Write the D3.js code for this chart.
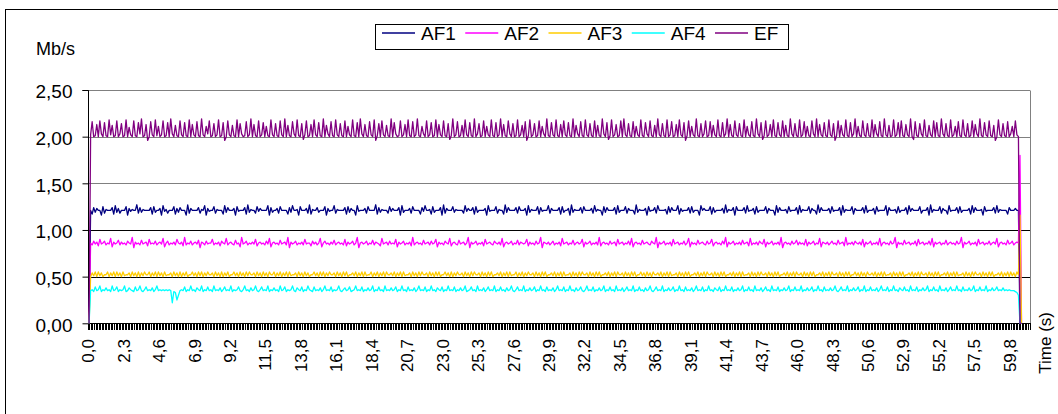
<!DOCTYPE html>
<html><head><meta charset="utf-8">
<script src="https://cdn.jsdelivr.net/npm/d3@7"></script>
<style>body{margin:0;background:#fff}svg{display:block;font-family:"Liberation Sans",Arial,sans-serif}</style>
</head><body><svg id="c" width="1058" height="414"></svg>
<script>
const seriesNames = ["AF1","AF2","AF3","AF4","EF"];
const seriesColors = ["#000080","#FF00FF","#FFCC00","#00FFFF","#800080"];
const categoryCount = 611;
const categories = d3.range(categoryCount).map(i => (i/10).toFixed(1).replace(".", ","));
const xTickLabels = ["0,0","2,3","4,6","6,9","9,2","11,5","13,8","16,1","18,4","20,7","23,0","25,3","27,6","29,9","32,2","34,5","36,8","39,1","41,4","43,7","46,0","48,3","50,6","52,9","55,2","57,5","59,8"];
const yTickValues = [0,0.5,1,1.5,2,2.5];
const yTickLabels = ["0,00","0,50","1,00","1,50","2,00","2,50"];

const AF1 = [0,
1.21,1.17,1.24,1.19,1.23,1.21,1.21,1.16,1.25,1.18,1.22,1.21,1.21,1.21,1.24,1.17,1.26,1.19,1.23,1.18,
1.21,1.21,1.21,1.25,1.16,1.23,1.20,1.22,1.21,1.21,1.27,1.18,1.24,1.19,1.22,1.21,1.21,1.21,1.21,1.24,
1.17,1.25,1.19,1.21,1.21,1.23,1.16,1.26,1.20,1.22,1.18,1.21,1.21,1.21,1.25,1.17,1.23,1.19,1.24,1.21,
1.21,1.21,1.16,1.27,1.18,1.23,1.21,1.21,1.21,1.21,1.24,1.18,1.22,1.21,1.26,1.16,1.23,1.20,1.21,1.21,
1.25,1.18,1.22,1.21,1.21,1.21,1.17,1.26,1.19,1.24,1.21,1.21,1.21,1.23,1.16,1.25,1.20,1.21,1.21,1.21,
1.24,1.17,1.27,1.19,1.22,1.21,1.21,1.18,1.25,1.20,1.23,1.21,1.21,1.21,1.21,1.26,1.16,1.24,1.19,1.21,
1.21,1.23,1.18,1.25,1.21,1.21,1.21,1.21,1.17,1.24,1.19,1.26,1.21,1.21,1.22,1.16,1.25,1.21,1.21,1.21,
1.23,1.18,1.27,1.17,1.22,1.21,1.21,1.24,1.19,1.21,1.21,1.21,1.25,1.16,1.23,1.20,1.21,1.21,1.26,1.18,
1.22,1.21,1.21,1.21,1.21,1.24,1.17,1.25,1.19,1.23,1.21,1.21,1.16,1.26,1.20,1.21,1.21,1.21,1.23,1.18,
1.25,1.21,1.21,1.21,1.21,1.27,1.17,1.24,1.19,1.22,1.21,1.21,1.21,1.18,1.25,1.20,1.23,1.21,1.21,1.21,
1.24,1.16,1.26,1.19,1.21,1.21,1.21,1.23,1.18,1.25,1.21,1.21,1.21,1.21,1.17,1.24,1.20,1.26,1.21,1.21,
1.22,1.17,1.25,1.19,1.21,1.21,1.21,1.24,1.16,1.27,1.18,1.23,1.21,1.21,1.21,1.25,1.19,1.22,1.21,1.21,
1.21,1.21,1.18,1.26,1.20,1.23,1.21,1.21,1.24,1.17,1.25,1.19,1.21,1.21,1.21,1.21,1.23,1.16,1.26,1.20,
1.21,1.21,1.21,1.25,1.18,1.22,1.21,1.21,1.17,1.27,1.19,1.24,1.21,1.21,1.21,1.21,1.24,1.18,1.25,1.21,
1.21,1.21,1.23,1.16,1.26,1.19,1.22,1.21,1.21,1.21,1.25,1.17,1.24,1.20,1.21,1.21,1.21,1.26,1.18,1.23,
1.21,1.21,1.21,1.21,1.24,1.17,1.25,1.19,1.21,1.21,1.23,1.16,1.27,1.19,1.22,1.21,1.21,1.21,1.24,1.18,
1.25,1.21,1.21,1.21,1.21,1.23,1.18,1.26,1.20,1.22,1.21,1.21,1.16,1.25,1.19,1.24,1.21,1.21,1.21,1.21,
1.24,1.17,1.26,1.19,1.21,1.21,1.21,1.25,1.18,1.23,1.21,1.21,1.21,1.17,1.27,1.19,1.22,1.21,1.21,1.21,
1.23,1.16,1.25,1.20,1.21,1.21,1.24,1.18,1.26,1.21,1.21,1.21,1.21,1.22,1.17,1.25,1.19,1.24,1.21,1.21,
1.21,1.26,1.17,1.23,1.20,1.21,1.21,1.21,1.24,1.18,1.25,1.19,1.21,1.21,1.21,1.16,1.26,1.21,1.23,1.21,
1.21,1.21,1.25,1.17,1.24,1.19,1.21,1.21,1.21,1.21,1.23,1.18,1.27,1.19,1.22,1.21,1.21,1.24,1.16,1.25,
1.21,1.21,1.21,1.21,1.24,1.18,1.26,1.20,1.21,1.21,1.23,1.17,1.25,1.19,1.21,1.21,1.21,1.21,1.25,1.18,
1.23,1.21,1.21,1.21,1.16,1.26,1.19,1.24,1.21,1.21,1.21,1.22,1.18,1.25,1.20,1.21,1.21,1.21,1.24,1.17,
1.26,1.19,1.22,1.21,1.21,1.21,1.25,1.18,1.23,1.21,1.21,1.17,1.27,1.19,1.24,1.21,1.21,1.21,1.21,1.23,
1.18,1.25,1.20,1.21,1.21,1.21,1.24,1.16,1.26,1.19,1.22,1.21,1.21,1.21,1.25,1.17,1.23,1.21,1.21,1.21,
1.21,1.24,1.18,1.26,1.19,1.21,1.21,1.21,1.23,1.17,1.25,1.20,1.21,1.21,1.21,1.21,1.26,1.16,1.24,1.21,
1.21,1.21,1.22,1.18,1.25,1.19,1.21,1.21,1.21,1.24,1.17,1.26,1.20,1.23,1.21,1.21,1.21,1.21,1.25,1.18,
1.21,1.21,1.21,1.24,1.16,1.27,1.19,1.22,1.21,1.21,1.21,1.25,1.18,1.23,1.21,1.21,1.17,1.26,1.20,1.21,
1.21,1.21,1.24,1.18,1.25,1.19,1.21,1.21,1.21,1.21,1.23,1.17,1.26,1.19,1.24,1.21,1.21,1.21,1.22,1.16,
1.25,1.20,1.21,1.21,1.21,1.21,1.24,1.18,1.26,1.19,1.22,1.21,1.21,1.21,1.21,1.17,1.24,1.21,1.21,1.21,
1.23,1.21,1.21,
0,0];

const AF2 = [0,
0.86,0.84,0.88,0.85,0.87,0.83,0.90,0.85,0.86,0.88,0.84,0.86,0.85,0.91,0.82,0.87,0.85,0.86,0.89,0.84,
0.87,0.85,0.86,0.84,0.88,0.86,0.85,0.92,0.81,0.87,0.85,0.86,0.84,0.89,0.85,0.86,0.87,0.83,0.90,0.85,
0.86,0.85,0.88,0.84,0.86,0.87,0.85,0.91,0.82,0.86,0.88,0.84,0.86,0.85,0.87,0.84,0.90,0.86,0.85,0.87,
0.83,0.92,0.84,0.86,0.85,0.88,0.84,0.86,0.87,0.85,0.89,0.81,0.87,0.86,0.84,0.88,0.85,0.86,0.86,0.90,
0.84,0.86,0.85,0.87,0.83,0.88,0.86,0.85,0.91,0.84,0.86,0.87,0.85,0.84,0.89,0.85,0.86,0.82,0.92,0.85,
0.86,0.88,0.84,0.86,0.85,0.87,0.85,0.90,0.83,0.86,0.87,0.85,0.86,0.84,0.88,0.85,0.91,0.82,0.86,0.87,
0.85,0.86,0.84,0.89,0.85,0.86,0.87,0.84,0.92,0.81,0.87,0.85,0.86,0.88,0.84,0.86,0.85,0.87,0.84,0.90,
0.85,0.86,0.86,0.83,0.88,0.85,0.87,0.84,0.86,0.91,0.82,0.86,0.88,0.85,0.86,0.84,0.87,0.85,0.89,0.84,
0.86,0.87,0.85,0.86,0.84,0.90,0.83,0.87,0.85,0.86,0.88,0.84,0.86,0.92,0.81,0.86,0.87,0.85,0.86,0.88,
0.84,0.86,0.85,0.89,0.84,0.87,0.86,0.85,0.83,0.91,0.85,0.86,0.87,0.84,0.88,0.85,0.86,0.85,0.90,0.82,
0.87,0.85,0.86,0.88,0.84,0.86,0.85,0.87,0.83,0.92,0.84,0.86,0.87,0.85,0.86,0.84,0.89,0.85,0.86,0.87,
0.84,0.88,0.85,0.86,0.90,0.82,0.87,0.85,0.86,0.84,0.88,0.86,0.85,0.91,0.83,0.86,0.87,0.85,0.84,0.89,
0.85,0.86,0.87,0.84,0.86,0.92,0.81,0.87,0.85,0.86,0.88,0.84,0.86,0.85,0.87,0.83,0.90,0.85,0.86,0.87,
0.85,0.84,0.88,0.86,0.85,0.87,0.84,0.91,0.82,0.86,0.87,0.85,0.86,0.88,0.84,0.86,0.85,0.89,0.84,0.87,
0.86,0.85,0.86,0.90,0.83,0.87,0.85,0.86,0.84,0.88,0.85,0.86,0.92,0.81,0.87,0.86,0.85,0.87,0.84,0.86,
0.88,0.84,0.86,0.85,0.87,0.83,0.91,0.85,0.86,0.87,0.84,0.86,0.85,0.89,0.84,0.86,0.87,0.85,0.86,0.90,
0.82,0.87,0.85,0.86,0.88,0.84,0.86,0.85,0.87,0.84,0.92,0.83,0.86,0.87,0.85,0.86,0.84,0.88,0.85,0.86,
0.87,0.83,0.90,0.85,0.86,0.87,0.84,0.86,0.85,0.88,0.84,0.91,0.82,0.86,0.87,0.85,0.86,0.84,0.89,0.85,
0.86,0.87,0.85,0.84,0.88,0.86,0.85,0.92,0.81,0.87,0.85,0.86,0.88,0.84,0.86,0.85,0.87,0.83,0.90,0.85,
0.86,0.87,0.84,0.86,0.85,0.88,0.84,0.86,0.91,0.82,0.87,0.85,0.86,0.84,0.89,0.85,0.86,0.87,0.85,0.84,
0.88,0.85,0.86,0.90,0.83,0.86,0.87,0.85,0.86,0.84,0.88,0.85,0.92,0.82,0.87,0.85,0.86,0.88,0.84,0.86,
0.85,0.87,0.84,0.89,0.85,0.86,0.87,0.83,0.91,0.84,0.86,0.85,0.87,0.84,0.88,0.86,0.85,0.90,0.82,0.87,
0.85,0.86,0.88,0.84,0.86,0.85,0.87,0.84,0.92,0.81,0.86,0.87,0.85,0.86,0.84,0.88,0.85,0.86,0.89,0.84,
0.87,0.85,0.86,0.84,0.90,0.83,0.87,0.85,0.86,0.88,0.84,0.86,0.85,0.91,0.82,0.87,0.86,0.85,0.87,0.84,
0.86,0.88,0.85,0.86,0.84,0.89,0.85,0.86,0.87,0.83,0.92,0.84,0.86,0.85,0.87,0.84,0.88,0.86,0.85,0.87,
0.84,0.90,0.82,0.87,0.85,0.86,0.88,0.84,0.86,0.85,0.87,0.84,0.91,0.83,0.86,0.87,0.85,0.86,0.84,0.88,
0.85,0.86,0.92,0.81,0.87,0.85,0.86,0.84,0.89,0.85,0.86,0.87,0.84,0.86,0.85,0.88,0.83,0.90,0.85,0.86,
0.87,0.84,0.86,0.85,0.88,0.84,0.91,0.82,0.87,0.85,0.86,0.87,0.84,0.86,0.85,0.89,0.84,0.86,0.87,0.85,
0.86,0.84,0.88,0.85,0.86,0.92,0.81,0.87,0.85,0.86,0.88,0.84,0.86,0.85,0.87,0.83,0.90,0.85,0.86,0.87,
0.84,0.86,0.85,0.88,0.84,0.86,0.87,0.85,0.91,0.82,0.86,0.87,0.85,0.86,0.84,0.89,0.85,0.86,0.88,0.84,
0.86,0.87,0.86,
1.80,0];

const AF3 = [0,
0.50,0.54,0.51,0.55,0.50,0.55,0.51,0.54,0.50,0.52,0.52,0.55,0.50,0.54,0.51,0.55,0.50,0.55,0.51,0.54,
0.50,0.55,0.51,0.52,0.52,0.54,0.50,0.55,0.51,0.54,0.50,0.55,0.50,0.54,0.51,0.55,0.52,0.52,0.55,0.50,
0.54,0.51,0.55,0.50,0.55,0.51,0.54,0.50,0.55,0.51,0.52,0.52,0.54,0.50,0.55,0.51,0.54,0.50,0.55,0.50,
0.54,0.51,0.55,0.50,0.52,0.52,0.55,0.51,0.54,0.50,0.55,0.51,0.55,0.50,0.54,0.51,0.55,0.52,0.52,0.54,
0.50,0.55,0.51,0.54,0.50,0.55,0.50,0.54,0.51,0.55,0.50,0.52,0.52,0.55,0.51,0.54,0.50,0.55,0.51,0.54,
0.50,0.55,0.51,0.55,0.52,0.52,0.54,0.50,0.55,0.51,0.54,0.50,0.55,0.51,0.54,0.50,0.55,0.52,0.52,0.55,
0.50,0.54,0.51,0.55,0.50,0.54,0.51,0.55,0.50,0.55,0.51,0.52,0.52,0.54,0.50,0.55,0.51,0.54,0.50,0.55,
0.51,0.54,0.50,0.52,0.52,0.55,0.51,0.54,0.50,0.55,0.51,0.55,0.50,0.54,0.51,0.55,0.52,0.52,0.54,0.50,
0.55,0.51,0.54,0.50,0.55,0.51,0.55,0.50,0.52,0.52,0.54,0.51,0.55,0.50,0.54,0.51,0.55,0.50,0.55,0.51,
0.52,0.52,0.55,0.50,0.54,0.51,0.55,0.50,0.54,0.51,0.55,0.50,0.55,0.52,0.52,0.54,0.51,0.55,0.50,0.54,
0.51,0.55,0.50,0.55,0.51,0.52,0.52,0.54,0.50,0.55,0.51,0.54,0.50,0.55,0.51,0.55,0.52,0.52,0.54,0.50,
0.55,0.51,0.54,0.50,0.55,0.51,0.55,0.50,0.52,0.52,0.55,0.51,0.54,0.50,0.55,0.50,0.54,0.51,0.55,0.52,
0.52,0.54,0.50,0.55,0.51,0.54,0.50,0.55,0.51,0.55,0.52,0.52,0.54,0.50,0.55,0.51,0.54,0.50,0.55,0.51,
0.55,0.50,0.52,0.52,0.54,0.51,0.55,0.50,0.54,0.51,0.55,0.50,0.55,0.51,0.52,0.52,0.55,0.50,0.54,0.51,
0.55,0.50,0.54,0.51,0.55,0.52,0.52,0.54,0.50,0.55,0.51,0.54,0.50,0.55,0.51,0.55,0.50,0.52,0.52,0.54,
0.51,0.55,0.50,0.54,0.51,0.55,0.50,0.55,0.51,0.52,0.52,0.54,0.50,0.55,0.51,0.54,0.50,0.55,0.51,0.55,
0.52,0.52,0.54,0.50,0.55,0.51,0.54,0.50,0.55,0.51,0.55,0.50,0.52,0.52,0.54,0.51,0.55,0.50,0.54,0.51,
0.55,0.50,0.55,0.52,0.52,0.54,0.50,0.55,0.51,0.54,0.50,0.55,0.51,0.55,0.50,0.52,0.52,0.55,0.51,0.54,
0.50,0.55,0.51,0.54,0.50,0.55,0.52,0.52,0.54,0.51,0.55,0.50,0.54,0.51,0.55,0.50,0.55,0.51,0.52,0.52,
0.54,0.50,0.55,0.51,0.54,0.50,0.55,0.51,0.55,0.50,0.52,0.52,0.54,0.51,0.55,0.50,0.54,0.51,0.55,0.50,
0.55,0.52,0.52,0.54,0.50,0.55,0.51,0.54,0.50,0.55,0.51,0.55,0.50,0.52,0.52,0.54,0.51,0.55,0.50,0.54,
0.51,0.55,0.50,0.55,0.51,0.52,0.52,0.54,0.50,0.55,0.51,0.54,0.50,0.55,0.51,0.55,0.52,0.52,0.54,0.50,
0.55,0.51,0.54,0.50,0.55,0.51,0.55,0.50,0.52,0.52,0.54,0.51,0.55,0.50,0.54,0.51,0.55,0.50,0.55,0.52,
0.52,0.54,0.50,0.55,0.51,0.54,0.50,0.55,0.51,0.55,0.50,0.52,0.52,0.54,0.51,0.55,0.50,0.54,0.51,0.55,
0.50,0.55,0.52,0.52,0.54,0.50,0.55,0.51,0.54,0.50,0.55,0.51,0.55,0.50,0.52,0.52,0.55,0.51,0.54,0.50,
0.55,0.51,0.54,0.50,0.55,0.52,0.52,0.54,0.51,0.55,0.50,0.54,0.51,0.55,0.50,0.55,0.51,0.52,0.52,0.54,
0.50,0.55,0.51,0.54,0.50,0.55,0.51,0.55,0.50,0.52,0.52,0.54,0.51,0.55,0.50,0.54,0.51,0.55,0.50,0.55,
0.52,0.52,0.54,0.50,0.55,0.51,0.54,0.50,0.55,0.51,0.55,0.50,0.52,0.52,0.54,0.51,0.55,0.50,0.54,0.51,
0.55,0.50,0.55,0.51,0.52,0.52,0.54,0.50,0.55,0.51,0.54,0.50,0.55,0.51,0.55,0.52,0.52,0.54,0.50,0.55,
0.51,0.54,0.50,0.55,0.51,0.55,0.50,0.52,0.52,0.54,0.51,0.55,0.50,0.54,0.51,0.55,0.50,0.55,0.51,0.54,
0.50,0.55,0.52,
1.16,0];

const AF4 = [0,
0.35,0.36,0.34,0.39,0.35,0.36,0.40,0.34,0.36,0.35,0.38,0.35,0.36,0.34,0.40,0.35,0.36,0.39,0.34,0.36,
0.35,0.36,0.40,0.34,0.35,0.38,0.36,0.35,0.34,0.39,0.35,0.36,0.40,0.35,0.34,0.36,0.39,0.35,0.36,0.35,
0.38,0.34,0.36,0.40,0.35,0.36,0.35,0.36,0.35,0.36,0.35,0.36,0.35,0.22,0.34,0.33,0.25,0.30,0.35,0.36,
0.35,0.39,0.34,0.36,0.35,0.40,0.35,0.36,0.34,0.38,0.36,0.35,0.40,0.34,0.36,0.35,0.39,0.35,0.36,0.34,
0.40,0.35,0.36,0.35,0.38,0.34,0.36,0.39,0.35,0.36,0.35,0.40,0.34,0.36,0.35,0.36,0.39,0.35,0.34,0.36,
0.40,0.35,0.36,0.34,0.38,0.35,0.36,0.40,0.35,0.34,0.36,0.39,0.35,0.36,0.35,0.40,0.34,0.36,0.35,0.38,
0.35,0.36,0.34,0.40,0.35,0.36,0.39,0.34,0.36,0.35,0.36,0.40,0.35,0.34,0.38,0.36,0.35,0.39,0.34,0.36,
0.35,0.40,0.36,0.35,0.34,0.39,0.35,0.36,0.35,0.38,0.34,0.36,0.40,0.35,0.36,0.35,0.39,0.34,0.36,0.35,
0.36,0.40,0.35,0.34,0.36,0.38,0.35,0.36,0.39,0.34,0.35,0.36,0.40,0.35,0.36,0.35,0.39,0.34,0.36,0.35,
0.38,0.35,0.36,0.40,0.34,0.36,0.35,0.39,0.35,0.36,0.34,0.40,0.35,0.36,0.35,0.38,0.35,0.36,0.39,0.34,
0.36,0.35,0.40,0.35,0.36,0.34,0.39,0.35,0.36,0.35,0.38,0.34,0.36,0.40,0.35,0.36,0.35,0.39,0.34,0.36,
0.35,0.40,0.35,0.36,0.34,0.38,0.36,0.35,0.39,0.34,0.36,0.35,0.40,0.35,0.36,0.35,0.39,0.34,0.36,0.35,
0.38,0.35,0.36,0.40,0.34,0.35,0.36,0.39,0.35,0.36,0.34,0.40,0.35,0.36,0.35,0.38,0.34,0.36,0.39,0.35,
0.36,0.35,0.40,0.34,0.36,0.35,0.39,0.35,0.36,0.34,0.38,0.35,0.36,0.40,0.35,0.34,0.36,0.39,0.35,0.36,
0.35,0.40,0.34,0.36,0.35,0.38,0.35,0.36,0.39,0.34,0.36,0.35,0.40,0.35,0.36,0.34,0.39,0.35,0.36,0.35,
0.38,0.34,0.36,0.40,0.35,0.36,0.35,0.39,0.34,0.36,0.35,0.40,0.35,0.36,0.34,0.38,0.35,0.36,0.39,0.35,
0.34,0.36,0.40,0.35,0.36,0.35,0.39,0.34,0.36,0.35,0.38,0.35,0.36,0.40,0.34,0.36,0.35,0.39,0.35,0.36,
0.34,0.40,0.35,0.36,0.35,0.38,0.34,0.36,0.39,0.35,0.36,0.35,0.40,0.34,0.36,0.35,0.39,0.35,0.36,0.34,
0.38,0.35,0.36,0.40,0.35,0.34,0.36,0.39,0.35,0.36,0.35,0.40,0.34,0.36,0.35,0.38,0.35,0.36,0.39,0.34,
0.36,0.35,0.40,0.35,0.36,0.34,0.39,0.35,0.36,0.35,0.38,0.34,0.36,0.40,0.35,0.36,0.35,0.39,0.34,0.36,
0.35,0.40,0.35,0.36,0.34,0.38,0.36,0.35,0.39,0.34,0.36,0.35,0.40,0.35,0.36,0.35,0.39,0.34,0.36,0.35,
0.38,0.35,0.36,0.40,0.34,0.36,0.35,0.39,0.35,0.36,0.34,0.40,0.35,0.36,0.35,0.38,0.34,0.36,0.39,0.35,
0.36,0.34,0.40,0.35,0.36,0.35,0.39,0.34,0.36,0.35,0.38,0.35,0.36,0.40,0.34,0.36,0.35,0.39,0.35,0.36,
0.35,0.40,0.34,0.36,0.35,0.38,0.35,0.36,0.39,0.34,0.36,0.35,0.40,0.35,0.36,0.34,0.39,0.35,0.36,0.35,
0.38,0.35,0.36,0.40,0.35,0.34,0.36,0.39,0.35,0.36,0.35,0.40,0.34,0.36,0.35,0.38,0.35,0.36,0.39,0.34,
0.36,0.35,0.40,0.34,0.36,0.35,0.39,0.35,0.36,0.35,0.38,0.34,0.36,0.40,0.35,0.36,0.35,0.39,0.34,0.36,
0.35,0.40,0.35,0.36,0.34,0.38,0.36,0.35,0.39,0.35,0.36,0.34,0.40,0.35,0.36,0.35,0.39,0.34,0.36,0.35,
0.38,0.35,0.36,0.40,0.34,0.36,0.35,0.39,0.35,0.36,0.34,0.40,0.35,0.36,0.35,0.38,0.34,0.36,0.39,0.35,
0.36,0.35,0.40,0.35,0.36,0.34,0.39,0.35,0.36,0.35,0.38,0.35,0.36,0.40,0.34,0.36,0.35,0.39,0.35,0.36,
0.35,0.40,0.34,0.36,0.35,0.38,0.35,0.36,0.39,0.35,0.36,0.35,0.38,0.35,0.36,0.35,0.36,0.35,0.35,0.35,
0.34,0.33,0.30,
0,0];

const EF = [0,
2.02,2.16,2.00,2.01,2.13,2.00,2.17,2.03,2.00,2.15,2.01,2.00,2.18,2.02,2.12,2.00,2.01,2.17,2.00,2.03,
2.14,2.00,2.01,2.18,2.00,2.10,2.02,2.00,2.17,2.01,2.00,2.15,2.03,2.19,2.00,2.01,2.13,1.96,2.00,2.16,
2.02,2.00,2.18,2.01,2.11,2.00,2.02,2.17,2.00,2.01,2.15,2.00,2.19,2.03,2.00,2.12,2.01,2.00,2.17,2.02,
2.00,2.15,2.01,2.00,2.18,2.00,2.13,2.02,2.00,2.16,2.01,2.00,2.19,2.02,2.00,2.11,2.03,2.17,2.00,2.01,
2.14,2.00,2.02,2.18,2.00,2.01,2.15,1.96,2.00,2.17,2.02,2.00,2.12,2.01,2.00,2.18,2.00,2.14,2.03,2.00,
2.01,2.16,2.00,2.02,2.19,2.00,2.13,2.01,2.00,2.17,2.00,2.02,2.15,2.00,2.11,2.01,2.00,2.18,2.02,2.00,
2.14,2.01,2.00,2.17,2.02,2.00,2.19,2.00,2.12,2.01,2.00,2.16,2.03,2.00,2.18,2.01,2.00,2.14,1.97,2.02,
2.17,2.00,2.01,2.13,2.00,2.18,2.02,2.00,2.15,2.01,2.00,2.19,2.00,2.12,2.03,2.00,2.16,2.01,2.00,2.18,
2.02,2.00,2.14,2.01,2.00,2.17,2.00,2.11,2.02,2.00,2.18,2.01,2.00,2.15,2.00,2.19,2.03,2.00,2.13,2.01,
2.00,2.16,2.02,2.00,2.18,1.96,2.01,2.14,2.00,2.17,2.02,2.00,2.12,2.01,2.00,2.19,2.00,2.15,2.03,2.00,
2.01,2.17,2.00,2.02,2.13,2.00,2.18,2.01,2.00,2.16,2.00,2.02,2.19,2.01,2.00,2.11,2.03,2.00,2.17,2.00,
2.02,2.15,2.00,2.01,2.18,2.00,2.13,2.02,2.00,2.17,2.01,2.00,2.14,1.97,2.01,2.19,2.00,2.02,2.16,2.00,
2.01,2.12,2.00,2.18,2.02,2.00,2.15,2.01,2.00,2.19,2.00,2.03,2.14,2.00,2.01,2.17,2.00,2.11,2.02,2.00,
2.18,2.01,2.00,2.15,2.00,2.02,2.19,2.00,2.13,2.01,2.00,2.17,2.03,2.00,2.14,2.00,2.01,2.18,2.00,2.02,
2.12,2.00,2.16,1.96,2.01,2.18,2.00,2.02,2.14,2.00,2.01,2.17,2.00,2.11,2.03,2.00,2.19,2.01,2.00,2.15,
2.02,2.00,2.18,2.01,2.00,2.13,2.00,2.17,2.02,2.00,2.15,2.01,2.00,2.19,2.00,2.12,2.03,2.00,2.16,2.01,
2.00,2.18,2.02,2.00,2.14,2.01,2.00,2.17,2.00,2.12,2.01,2.00,2.19,2.03,2.00,2.15,1.97,2.01,2.18,2.00,
2.02,2.13,2.00,2.01,2.17,2.00,2.19,2.02,2.00,2.14,2.01,2.00,2.16,2.00,2.11,2.02,2.00,2.18,2.01,2.00,
2.15,2.03,2.00,2.17,2.01,2.00,2.12,2.00,2.19,2.02,2.00,2.14,2.01,2.00,2.18,2.00,2.02,2.16,2.00,2.01,
2.13,2.00,2.18,2.02,2.00,2.15,1.96,2.01,2.17,2.00,2.11,2.02,2.00,2.19,2.01,2.00,2.14,2.00,2.03,2.17,
2.00,2.01,2.16,2.00,2.12,2.02,2.00,2.18,2.01,2.00,2.15,2.00,2.03,2.19,2.00,2.13,2.01,2.00,2.17,2.02,
2.00,2.14,2.01,2.00,2.18,2.00,2.11,2.02,2.00,2.16,2.01,2.00,2.19,2.03,2.00,2.15,1.97,2.01,2.17,2.00,
2.02,2.13,2.00,2.18,2.01,2.00,2.15,2.02,2.00,2.17,2.00,2.12,2.01,2.00,2.19,2.03,2.00,2.14,2.01,2.00,
2.18,2.00,2.02,2.16,2.00,2.11,2.01,2.00,2.17,2.03,2.00,2.19,2.00,2.13,2.02,2.00,2.15,2.01,2.00,2.18,
2.02,2.00,2.14,1.96,2.01,2.17,2.00,2.12,2.02,2.00,2.18,2.01,2.00,2.15,2.00,2.03,2.19,2.00,2.11,2.01,
2.00,2.17,2.02,2.00,2.14,2.01,2.00,2.18,2.00,2.13,2.03,2.00,2.16,2.01,2.00,2.19,2.02,2.00,2.12,2.00,
2.01,2.18,2.00,2.02,2.15,2.00,2.17,2.01,2.00,2.13,2.02,2.00,2.19,2.00,1.97,2.16,2.01,2.00,2.14,2.03,
2.00,2.18,2.01,2.00,2.12,2.02,2.00,2.17,2.00,2.15,2.01,2.00,2.19,2.03,2.00,2.14,2.01,2.00,2.18,2.00,
2.02,2.11,2.00,2.16,2.01,2.00,2.18,2.02,2.00,2.14,2.00,2.01,2.17,2.00,2.13,2.03,2.00,2.19,2.01,2.00,
2.15,2.02,2.00,2.17,2.01,2.00,2.12,1.96,2.00,2.18,2.02,2.00,2.14,2.01,2.00,2.16,2.00,2.03,2.11,2.00,
2.17,2.02,2.00,
0,0];

const seriesValues = [AF1, AF2, AF3, AF4, EF];

const svg = d3.select("#c");
const plotL = 88.3, plotR = 1030, plotT = 90, plotB = 323.3;

const x = d3.scaleBand().domain(categories).range([plotL, plotR]).paddingInner(0).paddingOuter(0);
const xc = c => x(c) + x.bandwidth() / 2;
const y = d3.scaleLinear().domain([0, 2.5]).range([plotB, plotT]);

// outer chart border
svg.append("rect").attr("x", 5.5).attr("y", 9.5).attr("width", 1100).attr("height", 500)
  .attr("fill", "none").attr("stroke", "#000").attr("stroke-width", 1);

// gridlines
svg.append("g").selectAll("line").data(yTickValues.filter(v => v > 0)).join("line")
  .attr("x1", plotL).attr("x2", plotR)
  .attr("y1", d => Math.round(y(d)) + 0.5).attr("y2", d => Math.round(y(d)) + 0.5)
  .attr("stroke", d => (d === 0.5 || d === 1) ? "#000" : "#808080").attr("stroke-width", 1);

// plot area right border
svg.append("line").attr("x1", plotR + 0.5).attr("x2", plotR + 0.5)
  .attr("y1", Math.round(y(2.5)) + 0.5).attr("y2", Math.round(plotB) + 1)
  .attr("stroke", "#808080");

// x tick marks at category boundaries
const boundaries = categories.map(c => Math.floor(x(c)) + 0.5).concat([Math.floor(plotR) + 0.5]);
svg.append("g").selectAll("line").data(boundaries).join("line")
  .attr("x1", d => d).attr("x2", d => d)
  .attr("y1", Math.round(plotB)).attr("y2", Math.round(plotB) + 7)
  .attr("stroke", "#000").attr("stroke-width", 1);

// x axis line
svg.append("line").attr("x1", plotL).attr("x2", plotR)
  .attr("y1", Math.round(plotB) + 0.5).attr("y2", Math.round(plotB) + 0.5)
  .attr("stroke", "#000");

// x labels
svg.append("g").selectAll("text").data(xTickLabels).join("text")
  .attr("transform", d => `translate(${xc(d)},339) rotate(-90)`)
  .attr("text-anchor", "end").attr("dy", "0.3em")
  .attr("font-size", 17).attr("fill", "#000").text(d => d);

// y axis
const yAxis = d3.axisLeft(y).tickValues(yTickValues).tickSize(6).tickPadding(10)
  .tickFormat((d, i) => yTickLabels[i]);
const yg = svg.append("g").attr("transform", `translate(${Math.round(plotL) + 0.5},0)`).call(yAxis);
yg.selectAll("path").attr("stroke", "#000");
yg.selectAll("line").attr("stroke", "#000");
yg.selectAll("text").attr("font-size", 19).attr("font-family", "Liberation Sans, Arial, sans-serif")
  .attr("fill", "#000").attr("dy", "0.42em");
yg.select(".domain").attr("d", `M-6,${Math.round(y(2.5))+0.5}H0V${Math.round(plotB)+0.5}`);

// series lines
const line = d3.line().defined(d => d != null)
  .x((d, i) => xc(categories[i])).y(d => y(d));
svg.append("g").selectAll("path").data(seriesValues).join("path")
  .attr("d", d => line(d))
  .attr("fill", "none")
  .attr("stroke", (d, i) => seriesColors[i])
  .attr("stroke-width", 1.3)
  .attr("stroke-linejoin", "round");

// axis titles
svg.append("text").attr("x", 36).attr("y", 55).attr("font-size", 18).attr("fill", "#000").text("Mb/s");
svg.append("text").attr("transform", "translate(1045,312) rotate(-90)")
  .attr("text-anchor", "end").attr("dy", "0.35em").attr("font-size", 17).attr("fill", "#000").text("Time (s)");

// legend
const lg = svg.append("g");
lg.append("rect").attr("x", 375.5).attr("y", 24.5).attr("width", 413).attr("height", 25)
  .attr("fill", "#fff").attr("stroke", "#000");
const items = lg.selectAll("g").data(seriesNames).join("g")
  .attr("transform", (d, i) => `translate(${382 + i * 83.25},0)`);
items.append("line").attr("x1", 0).attr("x2", 33).attr("y1", 33).attr("y2", 33)
  .attr("stroke", (d, i) => seriesColors[i]).attr("stroke-width", 1.5);
items.append("text").attr("x", 39).attr("y", 39.5).attr("font-size", 19).attr("fill", "#000").text(d => d);
</script></body></html>
